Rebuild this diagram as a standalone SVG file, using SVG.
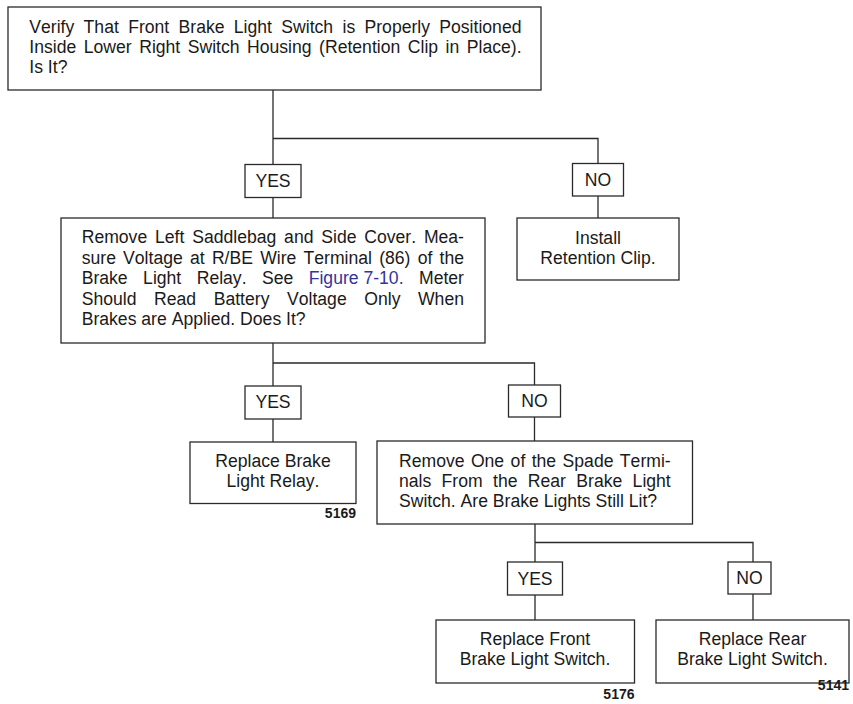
<svg xmlns="http://www.w3.org/2000/svg" width="853" height="704" viewBox="0 0 853 704">
<style>
.box{fill:#fff;stroke:#2a2a2a;stroke-width:1.3}
.ln{fill:none;stroke:#2a2a2a;stroke-width:1.3}
text{font-family:"Liberation Sans",Arial,sans-serif;font-size:17.6px;fill:#1a1a1a;font-kerning:none}
.c{text-anchor:middle}
.num{font-weight:bold;font-size:14px;text-anchor:end}
.link{fill:#34349c}
</style>
<rect width="853" height="704" fill="#fff"/>
<g id="connectors">
<path class="ln" d="M273,90 V165 M273,138.5 H598 V164 M273,197 V218 M598,196 V218"/>
<path class="ln" d="M273,343 V386 M273,363 H534.5 V385 M273,419 V442 M534.5,417 V441"/>
<path class="ln" d="M535,524 V562 M535,542.5 H753 V562 M535,595 V620 M753,594 V620"/>
</g>
<g id="q1">
<rect class="box" x="8" y="7" width="533" height="83"/>
<text y="32.5"><tspan x="29.3">Verify</tspan><tspan x="83.6">That</tspan><tspan x="128.2">Front</tspan><tspan x="178.6">Brake</tspan><tspan x="233.8">Light</tspan><tspan x="281.3">Switch</tspan><tspan x="342.5">is</tspan><tspan x="364.5">Properly</tspan><tspan x="439.3">Positioned</tspan></text>
<text y="52.8"><tspan x="29.3">Inside</tspan><tspan x="83.75">Lower</tspan><tspan x="139.2">Right</tspan><tspan x="187.7">Switch</tspan><tspan x="247.05">Housing</tspan><tspan x="319.1">(Retention</tspan><tspan x="407.8">Clip</tspan><tspan x="445.6">in</tspan><tspan x="466.8">Place).</tspan></text>
<text x="29.3" y="73">Is It?</text>
</g>
<g id="yes1"><rect class="box" x="245" y="164.5" width="56" height="33"/><text class="c" x="273" y="186.5">YES</text></g>
<g id="no1"><rect class="box" x="572.5" y="163.5" width="51" height="32.5"/><text class="c" x="598" y="185.5">NO</text></g>
<g id="q2">
<rect class="box" x="61" y="218" width="424" height="125"/>
<text y="243.3"><tspan x="81.7">Remove</tspan><tspan x="155.0">Left</tspan><tspan x="192.2">Saddlebag</tspan><tspan x="284.1">and</tspan><tspan x="321.3">Side</tspan><tspan x="364.3">Cover.</tspan><tspan x="423.9">Mea-</tspan></text>
<text y="263.8"><tspan x="81.7">sure</tspan><tspan x="123.1">Voltage</tspan><tspan x="190.0">at</tspan><tspan x="211.9">R/BE</tspan><tspan x="260.2">Wire</tspan><tspan x="303.5">Terminal</tspan><tspan x="379.2">(86)</tspan><tspan x="417.7">of</tspan><tspan x="439.6">the</tspan></text>
<text y="284.3"><tspan x="81.7">Brake</tspan><tspan x="143.1">Light</tspan><tspan x="196.7">Relay.</tspan><tspan x="262.0">See</tspan><tspan x="308.7" class="link">Figure 7-10.</tspan><tspan x="419.0">Meter</tspan></text>
<text y="304.8"><tspan x="81.7">Should</tspan><tspan x="154.1">Read</tspan><tspan x="213.7">Battery</tspan><tspan x="287.0">Voltage</tspan><tspan x="364.3">Only</tspan><tspan x="418.0">When</tspan></text>
<text x="81.7" y="325.3">Brakes are Applied. Does It?</text>
</g>
<g id="install">
<rect class="box" x="517" y="218" width="162" height="62"/>
<text class="c" x="598" y="244.3">Install</text>
<text class="c" x="598" y="264.3">Retention Clip.</text>
</g>
<g id="yes2"><rect class="box" x="245" y="386" width="56" height="33"/><text class="c" x="273" y="408">YES</text></g>
<g id="no2"><rect class="box" x="508.5" y="385" width="52" height="32"/><text class="c" x="534.5" y="407">NO</text></g>
<g id="relay">
<rect class="box" x="190" y="442" width="166" height="61.5"/>
<text class="c" x="273" y="467">Replace Brake</text>
<text class="c" x="273" y="486.5">Light Relay.</text>
<text class="num" x="356" y="517.5">5169</text>
</g>
<g id="q3">
<rect class="box" x="377" y="441" width="315.5" height="83"/>
<text y="466.8"><tspan x="399">Remove</tspan><tspan x="470.9">One</tspan><tspan x="510.6">of</tspan><tspan x="531.7">the</tspan><tspan x="562.6">Spade</tspan><tspan x="619.85">Termi-</tspan></text>
<text y="487"><tspan x="399">nals</tspan><tspan x="441.6">From</tspan><tspan x="493.0">the</tspan><tspan x="527.8">Rear</tspan><tspan x="576.3">Brake</tspan><tspan x="632.6">Light</tspan></text>
<text x="399" y="507">Switch. Are Brake Lights Still Lit?</text>
</g>
<g id="yes3"><rect class="box" x="507.5" y="562" width="55" height="33"/><text class="c" x="535" y="585">YES</text></g>
<g id="no3"><rect class="box" x="728" y="562" width="43" height="32"/><text class="c" x="749.5" y="583.5">NO</text></g>
<g id="front">
<rect class="box" x="436" y="620" width="198.5" height="63"/>
<text class="c" x="535" y="645">Replace Front</text>
<text class="c" x="535" y="665">Brake Light Switch.</text>
<text class="num" x="634.5" y="699">5176</text>
</g>
<g id="rear">
<rect class="box" x="656" y="620" width="193" height="63"/>
<text class="c" x="752.5" y="645">Replace Rear</text>
<text class="c" x="752.5" y="665">Brake Light Switch.</text>
<text class="num" x="849" y="689.5">5141</text>
</g>
</svg>
